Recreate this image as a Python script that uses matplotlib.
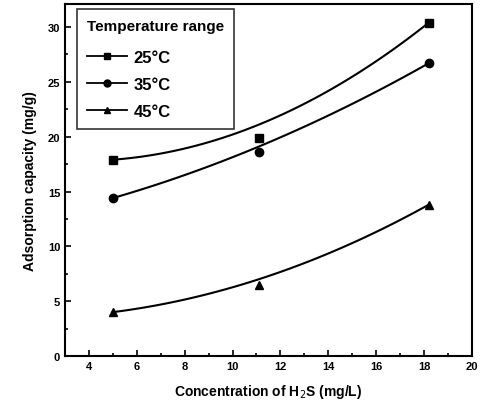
import numpy as np
import matplotlib.pyplot as plt
from matplotlib.ticker import MultipleLocator

plt.rcParams['font.family'] = ['Liberation Sans', 'DejaVu Sans']

# measured points
conc = [5.0, 11.1, 18.2]
cap_25 = [17.9, 19.9, 30.4]
cap_35 = [14.4, 18.6, 26.7]
cap_45 = [4.0, 6.5, 13.8]

# fitted trend curve at the same concentrations
fit_25 = [17.9, 21.1, 30.4]
fit_35 = [14.4, 19.1, 26.7]
fit_45 = [4.0, 7.0, 13.8]

labels = ['25°C', '35°C', '45°C']
markers = ['s', 'o', '^']

fig = plt.figure(figsize=(4.8, 4.06), dpi=100)
ax = fig.add_axes([0.1354, 0.1207, 0.8476, 0.867])

xs = np.linspace(conc[0], conc[-1], 100)
for pts, fit, lab, m in zip([cap_25, cap_35, cap_45], [fit_25, fit_35, fit_45], labels, markers):
    coef = np.polyfit(conc, fit, 2)
    ax.plot(xs, np.polyval(coef, xs), color='black', lw=1.5)
    ax.plot(conc, pts, linestyle='none', marker=m, color='black', ms=6)
    # proxy for legend: line with marker in the middle
    ax.plot([], [], color='black', lw=1.3, marker=m, ms=5, label=lab)

ax.set_xlim(3, 20)
ax.set_ylim(0, 32.1)
ax.xaxis.set_major_locator(MultipleLocator(2))
ax.xaxis.set_minor_locator(MultipleLocator(1))
ax.yaxis.set_major_locator(MultipleLocator(5))
ax.yaxis.set_minor_locator(MultipleLocator(2.5))
ax.tick_params(which='both', direction='in', width=1.2)
ax.tick_params(which='major', length=4, labelsize=8)
ax.tick_params(which='minor', length=2.5)
ax.set_xticks([4, 6, 8, 10, 12, 14, 16, 18, 20])
for lb in ax.get_xticklabels() + ax.get_yticklabels():
    lb.set_fontweight('bold')
for sp in ax.spines.values():
    sp.set_linewidth(1.5)

ax.set_xlabel('Concentration of H$_2$S (mg/L)', fontsize=10, fontweight='bold', labelpad=8)
ax.set_ylabel('Adsorption capacity (mg/g)', fontsize=10, fontweight='bold', labelpad=8)

leg = ax.legend(loc='upper left', title='Temperature range', frameon=True, fancybox=False,
                edgecolor='black', prop={'weight': 'bold', 'size': 12},
                title_fontproperties={'weight': 'bold', 'size': 11},
                handlelength=2.4, handletextpad=0.4, labelspacing=0.72, borderpad=0.6,
                borderaxespad=0, bbox_to_anchor=(0.03, 0.985))
leg.get_frame().set_linewidth(1.2)
leg._legend_box.align = 'left'
leg._legend_box.sep = 12

fig.savefig('out.png', dpi=100)
